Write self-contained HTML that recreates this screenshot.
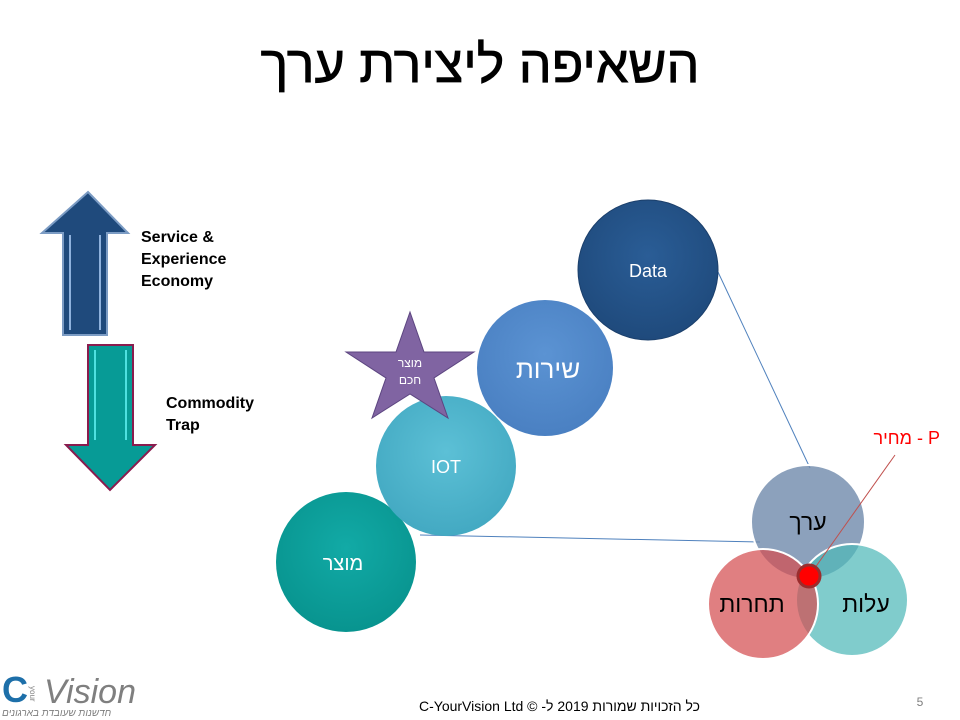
<!DOCTYPE html>
<html><head><meta charset="utf-8"><style>
body{margin:0;background:#fff}
svg{display:block}
text{font-family:"Liberation Sans","Noto Sans CJK SC",sans-serif}
</style></head><body>
<svg width="960" height="720" viewBox="0 0 960 720" xmlns="http://www.w3.org/2000/svg">
<defs>
<radialGradient id="gd" cx="50%" cy="40%" r="60%"><stop offset="0" stop-color="#2a5d96"/><stop offset="1" stop-color="#1f4a7c"/></radialGradient>
<radialGradient id="gs" cx="50%" cy="40%" r="60%"><stop offset="0" stop-color="#5b93d3"/><stop offset="1" stop-color="#4a80c2"/></radialGradient>
<radialGradient id="gi" cx="50%" cy="40%" r="60%"><stop offset="0" stop-color="#5cc0d6"/><stop offset="1" stop-color="#43a9c2"/></radialGradient>
<radialGradient id="gm" cx="50%" cy="40%" r="60%"><stop offset="0" stop-color="#12aaa6"/><stop offset="1" stop-color="#08948f"/></radialGradient>
</defs>
<text x="480" y="82" font-size="52" text-anchor="middle" fill="#000" stroke="#000" stroke-width="0.8">השאיפה ליצירת ערך</text>

<polygon points="88,192 128,233 107,233 107,335 63,335 63,233 42,233" fill="#1f4a7c" stroke="#7c9cc4" stroke-width="2"/>
<line x1="70" y1="235" x2="70" y2="330" stroke="#8fb2dd" stroke-width="2"/>
<line x1="100" y1="235" x2="100" y2="330" stroke="#8fb2dd" stroke-width="2"/>
<polygon points="88,345 133,345 133,445 155,445 110,490 66,445 88,445" fill="#079b96" stroke="#8a1c4e" stroke-width="2"/>
<line x1="95" y1="350" x2="95" y2="440" stroke="#4fe0e0" stroke-width="2"/>
<line x1="126" y1="350" x2="126" y2="440" stroke="#4fe0e0" stroke-width="2"/>
<text font-size="16" font-weight="bold" fill="#000"><tspan x="141" y="242">Service &amp;</tspan><tspan x="141" y="264">Experience</tspan><tspan x="141" y="286">Economy</tspan></text>
<text font-size="16" font-weight="bold" fill="#000"><tspan x="166" y="408">Commodity</tspan><tspan x="166" y="430">Trap</tspan></text>

<line x1="718" y1="272" x2="810" y2="468" stroke="#4f81bd" stroke-width="1"/>
<line x1="420" y1="535" x2="760" y2="542" stroke="#4f81bd" stroke-width="1"/>

<circle cx="648" cy="270" r="70" fill="url(#gd)" stroke="#1b3f6b" stroke-width="1"/>
<text x="648" y="277" font-size="18" fill="#fff" text-anchor="middle">Data</text>
<circle cx="545" cy="368" r="68" fill="url(#gs)"/>
<text x="548" y="378" font-size="26" fill="#fff" text-anchor="middle">שירות</text>
<circle cx="346" cy="562" r="70" fill="url(#gm)"/>
<text x="343" y="570" font-size="20" fill="#fff" text-anchor="middle">מוצר</text>
<circle cx="446" cy="466" r="70" fill="url(#gi)"/>
<text x="446" y="473" font-size="18" fill="#fff" text-anchor="middle">IOT</text>

<polygon points="410,312 424,352 474,352 434,378 448,418 410,394 372,418 386,378 346,352 396,352" fill="#8064a2" stroke="#5c4580" stroke-width="1"/>
<text x="410" y="367" font-size="12" fill="#fff" text-anchor="middle">מוצר</text>
<text x="410" y="384" font-size="12" fill="#fff" text-anchor="middle">חכם</text>

<circle cx="808" cy="522" r="57" fill="#6f89ab" fill-opacity="0.8" stroke="#fff" stroke-width="2"/>
<circle cx="852" cy="600" r="56" fill="#4fb8b8" fill-opacity="0.72" stroke="#fff" stroke-width="2"/>
<circle cx="763" cy="604" r="55" fill="#d44e50" fill-opacity="0.72" stroke="#fff" stroke-width="2"/>
<text x="808" y="530" font-size="23" fill="#000" text-anchor="middle">ערך</text>
<text x="866" y="612" font-size="23" fill="#000" text-anchor="middle">עלות</text>
<text x="752" y="612" font-size="23" fill="#000" text-anchor="middle">תחרות</text>
<line x1="812" y1="572" x2="895" y2="455" stroke="#c0504d" stroke-width="1"/>
<circle cx="809" cy="576" r="11" fill="#ff0000" stroke="#9b2d2d" stroke-width="3"/>
<text x="940" y="444" font-size="18" fill="#ff0000" direction="ltr" text-anchor="end">מחיר - P</text>

<text x="2" y="702" font-size="36" fill="#1d6fa9" font-weight="bold">C</text>
<text x="30" y="686" font-size="8" fill="#7f7f7f" transform="rotate(90 30 686)">your</text>
<text x="44" y="703" font-size="34" fill="#7f7f7f" font-style="italic">Vision</text>
<text x="2" y="716" font-size="10" fill="#7f7f7f" font-style="italic">חדשנות שעובדת בארגונים</text>
<text x="700" y="711" font-size="14" fill="#000" direction="rtl" text-anchor="start">כל הזכויות  שמורות 2019  ל- © C-YourVision Ltd</text>
<text x="920" y="706" font-size="12" fill="#7f7f7f" text-anchor="middle">5</text>
</svg>
</body></html>
